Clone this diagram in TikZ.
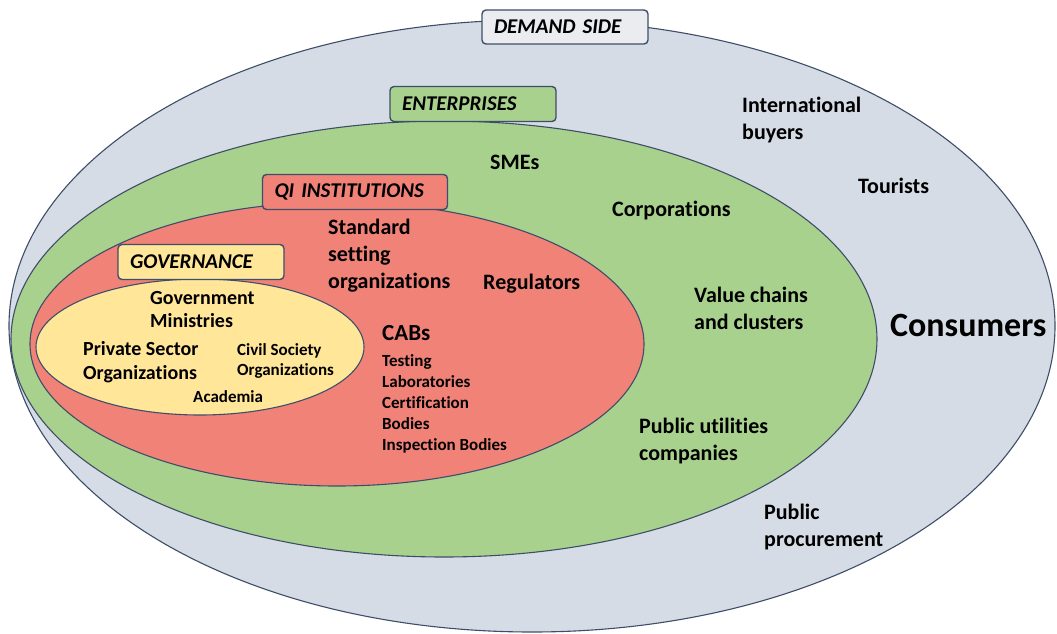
\documentclass[tikz,border=0pt]{standalone}
\usepackage{fontspec}
\setmainfont{Carlito}[Ligatures=NoCommon]
\usepackage{tikz}
\definecolor{demandfill}{RGB}{214,220,229}
\definecolor{boxgrey}{RGB}{234,236,240}
\definecolor{entgreen}{RGB}{169,209,142}
\definecolor{qired}{RGB}{241,130,120}
\definecolor{govyellow}{RGB}{255,230,153}
\definecolor{rim}{RGB}{62,78,104}
\usetikzlibrary{shapes.geometric}
\pgfdeclarelayer{ringlayer}
\pgfdeclarelayer{labellayer}
\pgfsetlayers{ringlayer,main,labellayer}
\tikzstyle{ring}=[ellipse,draw=rim,line width=1.1pt,inner sep=0pt]
\tikzstyle{tag}=[rectangle,rounded corners=4pt,draw=rim,line width=1.4pt,inner xsep=12pt,inner ysep=0pt,align=left,font=\fontsize{21}{24}\selectfont\bfseries\itshape]
\tikzstyle{item}=[inner sep=0pt,anchor=west,align=left,font=\fontsize{22}{27}\selectfont\bfseries]
\tikzstyle{small}=[inner sep=0pt,anchor=west,align=left,font=\fontsize{17}{21}\selectfont\bfseries]

\begin{document}
\begin{tikzpicture}[x=1pt,y=-1pt]
        \useasboundingbox (0,0) rectangle (1057,634);

        % nested circles, outermost first
        \node [style = ring, fill=demandfill, minimum width=1046pt, minimum height=612pt] (demand) at (532, 326) {};
        \node [style = tag, fill=boxgrey, minimum height=34pt, text width=142pt] (demandtag) at (565, 27) {DEMAND SIDE};

        \node [style = ring, fill=entgreen, minimum width=866pt, minimum height=436pt] (enterprises) at (444, 339) {};
        \node [style = tag, fill=entgreen, minimum height=35pt, text width=142pt] (enttag) at (473, 104) {ENTERPRISES};

        \node [style = ring, fill=qired, minimum width=614pt, minimum height=284pt] (qi) at (337, 344) {};
        \node [style = tag, fill=qired, minimum height=35pt, text width=161pt] (qitag) at (355, 192) {QI INSTITUTIONS};

        \node [style = ring, fill=govyellow, minimum width=328pt, minimum height=136pt] (governance) at (200, 347) {};
        \node [style = tag, fill=govyellow, minimum height=35pt, text width=142pt] (govtag) at (201, 262) {GOVERNANCE};

        \begin{pgfonlayer}{labellayer}
            \node [style = item] (intl) at (742, 120) {International\\buyers};
            \node [style = item] (tourists) at (858, 186) {Tourists};
            \node [style = item, font=\fontsize{34}{40}\selectfont\bfseries] (consumers) at (890, 325) {Consumers};
            \node [style = item] (procurement) at (764, 527) {Public\\procurement};

            \node [style = item] (smes) at (490, 162) {SMEs};
            \node [style = item] (corporations) at (612, 211) {Corporations};
            \node [style = item] (chains) at (694, 308) {Value chains\\and clusters};
            \node [style = item] (utilities) at (639, 441) {Public utilities\\companies};

            \node [style = item] (standard) at (328, 256) {Standard\\setting\\organizations};
            \node [style = item] (regulators) at (483, 284) {Regulators};
            \node [style = item, font=\fontsize{23}{27}\selectfont\bfseries] (cabs) at (382, 333) {CABs};
            \node [style = small] (cablist) at (382, 404) {Testing\\Laboratories\\Certification\\Bodies\\Inspection Bodies};

            \node [style = item, font=\fontsize{20}{23}\selectfont\bfseries] (ministries) at (150, 310) {Government\\Ministries};
            \node [style = item, font=\fontsize{20}{24}\selectfont\bfseries] (private) at (83, 362) {Private Sector\\Organizations};
            \node [style = small, font=\fontsize{17}{20}\selectfont\bfseries] (civil) at (237, 361) {Civil Society\\Organizations};
            \node [style = small] (academia) at (193, 397) {Academia};
        \end{pgfonlayer}
    \end{tikzpicture}
\end{document}
